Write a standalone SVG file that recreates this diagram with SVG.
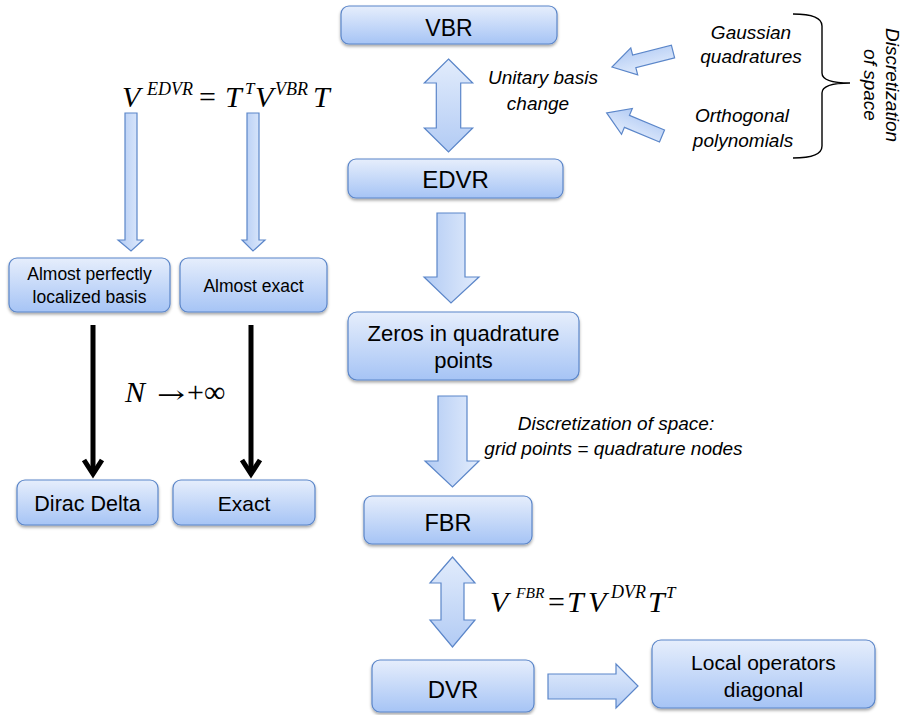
<svg xmlns="http://www.w3.org/2000/svg" width="904" height="715" viewBox="0 0 904 715">
<defs>
<linearGradient id="boxg" x1="0" y1="0" x2="0" y2="1">
<stop offset="0" stop-color="#e6eefc"/>
<stop offset="1" stop-color="#a6c4f5"/>
</linearGradient>
<linearGradient id="arrg" x1="0" y1="0" x2="1" y2="0">
<stop offset="0" stop-color="#b2cbf4"/>
<stop offset="1" stop-color="#e2ecfc"/>
</linearGradient>
<linearGradient id="arrv" x1="0" y1="0" x2="0" y2="1">
<stop offset="0" stop-color="#e2ecfc"/>
<stop offset="1" stop-color="#b2cbf4"/>
</linearGradient>
<filter id="sh" x="-10%" y="-10%" width="120%" height="140%">
<feDropShadow dx="0" dy="2" stdDeviation="1.5" flood-color="#000" flood-opacity="0.35"/>
</filter>
</defs>
<style>
.box{fill:url(#boxg);stroke:#5b86c9;stroke-width:1.2;filter:url(#sh)}
.barr{fill:url(#arrg);stroke:#5b86c9;stroke-width:1.2}
.barrv{fill:url(#arrv);stroke:#5b86c9;stroke-width:1.2}
.t{font-family:"Liberation Sans",Arial,sans-serif;fill:#000;text-anchor:middle}
.it{font-family:"Liberation Sans",Arial,sans-serif;font-style:italic;fill:#000;text-anchor:middle;font-size:19px}
.m{font-family:"Liberation Serif","Times New Roman",serif;font-style:italic;fill:#000}
.mu{font-family:"Liberation Serif","DejaVu Serif",serif;fill:#000}
.blk{stroke:#000;stroke-width:5;fill:none}
</style>

<g id="connectors">
<path class="barrv" d="M448.5,59 L472.7,83 L460.7,83 L460.7,128 L472.7,128 L448.5,152 L424.3,128 L436.3,128 L436.3,83 L424.3,83 Z"/>
<path class="barr" d="M437,213 L465,213 L465,277 L479,277 L451,303 L424,277 L437,277 Z"/>
<path class="barr" d="M438,396 L467,396 L467,461 L479,461 L452.5,487 L425,461 L438,461 Z"/>
<path class="barrv" d="M452.5,557 L475,583 L464,583 L464,620 L475,620 L452.5,647 L430,620 L441,620 L441,583 L430,583 Z"/>
<path class="barrv" d="M548,674 L616,674 L616,664 L638,686 L616,708 L616,699 L548,699 Z"/>
<path class="barr" d="M125,113 L137,113 L137,240 L143,240 L131,251 L118,240 L125,240 Z"/>
<path class="barr" d="M247,113 L259,113 L259,240 L265,240 L253,251 L242,240 L247,240 Z"/>
<path class="barrv" transform="translate(673,51.5) rotate(165.7)" d="M0,-6.5 L40,-6.5 L40,-14 L63,0 L40,14 L40,6.5 L0,6.5 Z"/>
<path class="barrv" transform="translate(662,136) rotate(202.7)" d="M0,-6.5 L38,-6.5 L38,-14 L60,0 L38,14 L38,6.5 L0,6.5 Z"/>
<line class="blk" x1="93" y1="325" x2="93" y2="474"/>
<polyline class="blk" points="84,460 93,474 102,460"/>
<line class="blk" x1="251" y1="325" x2="251" y2="474"/>
<polyline class="blk" points="242,460 251,474 260,460"/>
<path d="M793,14 Q822,14 822,26 L822,73 Q822,83 850,83 Q822,83 822,93 L822,146 Q822,158 793,158" fill="none" stroke="#000" stroke-width="1.4"/>
</g>

<g id="vbr"><rect class="box" x="341" y="6" width="216" height="38" rx="8"/><text class="t" x="449" y="36" font-size="23">VBR</text></g>
<g id="edvr"><rect class="box" x="348" y="159" width="215" height="39" rx="8"/><text class="t" x="455.5" y="188" font-size="24">EDVR</text></g>
<g id="zeros"><rect class="box" x="348" y="312" width="231" height="68" rx="9"/><text class="t" x="463.5" y="341" font-size="22">Zeros in quadrature</text><text class="t" x="463.5" y="368" font-size="22">points</text></g>
<g id="fbr"><rect class="box" x="364" y="496" width="168" height="48" rx="8"/><text class="t" x="448" y="531" font-size="23.5">FBR</text></g>
<g id="dvr"><rect class="box" x="372" y="660" width="162" height="52" rx="8"/><text class="t" x="453" y="698" font-size="24">DVR</text></g>
<g id="local"><rect class="box" x="652" y="640" width="223" height="68" rx="9"/><text class="t" x="763.5" y="670" font-size="21">Local operators</text><text class="t" x="763.5" y="697" font-size="21">diagonal</text></g>
<g id="almostloc"><rect class="box" x="9" y="258" width="161" height="54" rx="8"/><text class="t" x="89.5" y="280" font-size="17.5">Almost perfectly</text><text class="t" x="89.5" y="303" font-size="17.5">localized basis</text></g>
<g id="almostexact"><rect class="box" x="180" y="258" width="147" height="54" rx="8"/><text class="t" x="253.5" y="292" font-size="17.5">Almost exact</text></g>
<g id="dirac"><rect class="box" x="17" y="480" width="141" height="45" rx="8"/><text class="t" x="87.5" y="511" font-size="21.5">Dirac Delta</text></g>
<g id="exact"><rect class="box" x="173" y="480" width="142" height="45" rx="8"/><text class="t" x="244" y="511" font-size="21">Exact</text></g>

<g id="labels">
<text class="it" x="543" y="84">Unitary basis</text>
<text class="it" x="538" y="110">change</text>
<text class="it" x="751" y="39">Gaussian</text>
<text class="it" x="751" y="63">quadratures</text>
<text class="it" x="742" y="122">Orthogonal</text>
<text class="it" x="743" y="147">polynomials</text>
<text class="it" transform="translate(886,85) rotate(90)" x="0" y="0">Discretization</text>
<text class="it" transform="translate(886,85) rotate(90)" x="0" y="22">of space</text>
<text class="it" x="616" y="430">Discretization of space:</text>
<text class="it" x="613.5" y="455">grid points = quadrature nodes</text>

<text class="m" x="122" y="107" font-size="30">V</text>
<text class="m" x="147" y="95" font-size="18">EDVR</text>
<text class="mu" x="199" y="107" font-size="30">=</text>
<text class="m" x="225" y="107" font-size="30">T</text>
<text class="m" x="245" y="94" font-size="17">T</text>
<text class="m" x="255" y="107" font-size="30">V</text>
<text class="m" x="275" y="95" font-size="18">VBR</text>
<text class="m" x="313" y="107" font-size="30">T</text>

<text class="m" x="125" y="402" font-size="30">N</text>
<text x="157" y="403" font-size="24" font-family="DejaVu Serif, serif" fill="#000" textLength="28" lengthAdjust="spacingAndGlyphs">→</text>
<text class="mu" x="187" y="402" font-size="30">+∞</text>

<text class="m" x="490" y="612" font-size="30">V</text>
<text class="m" x="516" y="598" font-size="15.5">FBR</text>
<text class="mu" x="548" y="612" font-size="30">=</text>
<text class="m" x="567" y="612" font-size="30">T</text>
<text class="m" x="588" y="612" font-size="30">V</text>
<text class="m" x="611" y="598" font-size="18">DVR</text>
<text class="m" x="648" y="612" font-size="30">T</text>
<text class="m" x="666" y="598" font-size="17">T</text>
</g>
</svg>
